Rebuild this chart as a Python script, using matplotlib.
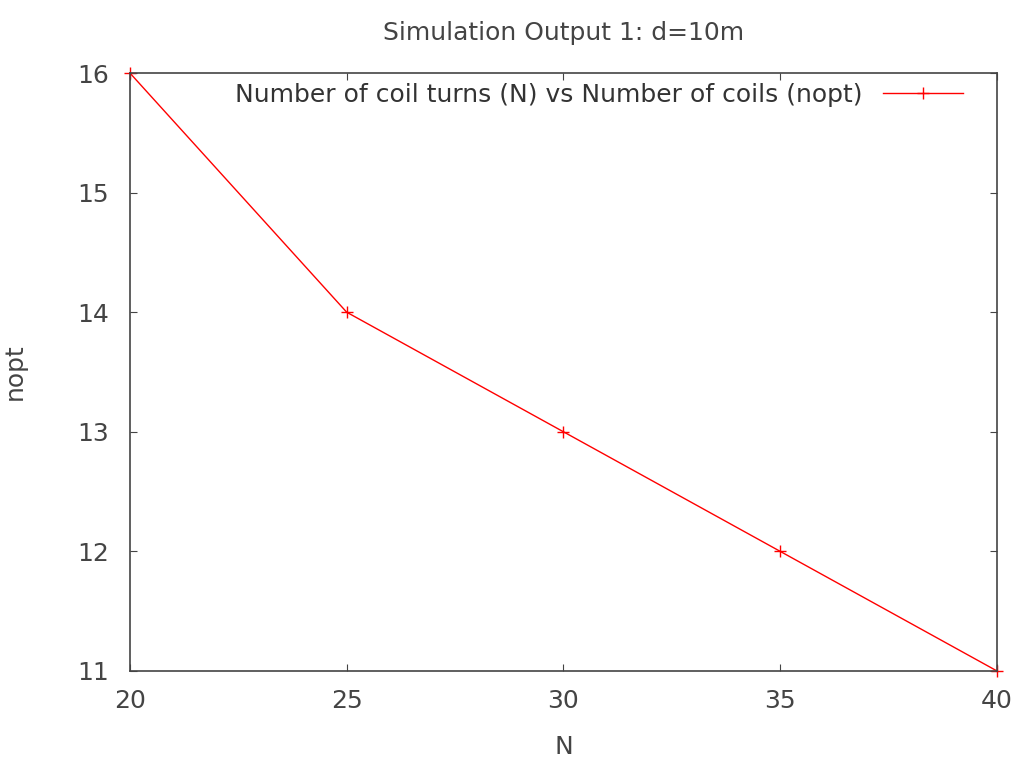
import matplotlib
matplotlib.use('Agg')
import matplotlib.pyplot as plt

# data
n_turns = [20, 25, 30, 35, 40]
n_opt = [16, 14, 13, 12, 11]
x_ticks = [20, 25, 30, 35, 40]
y_ticks = [11, 12, 13, 14, 15, 16]

fig = plt.figure(figsize=(10.23, 7.63), dpi=100)
ax = fig.add_axes([0.127, 0.1206, 0.8476, 0.7837])

ax.plot(n_turns, n_opt, color='#ff0000', linewidth=1.0, marker='+',
        markersize=9, markeredgewidth=1.0, clip_on=False,
        label='Number of coil turns (N) vs Number of coils (nopt)')

ax.set_xlim(20, 40)
ax.set_ylim(11, 16)
ax.set_xticks(x_ticks)
ax.set_yticks(y_ticks)
ax.tick_params(direction='in', length=5, width=0.8, top=True, right=True,
               labelsize=18, colors='#444444')
ax.tick_params(axis='x', pad=13)
ax.tick_params(axis='y', pad=15)
for s in ax.spines.values():
    s.set_linewidth(1.2)
    s.set_color('#444444')

ax.set_xlabel('N', fontsize=18, labelpad=16, color='#444444')
ax.set_ylabel('nopt', fontsize=18, labelpad=36, color='#444444')
ax.set_title('Simulation Output 1: d=10m', fontsize=18, pad=24, color='#444444')

leg = ax.legend(loc='upper right', bbox_to_anchor=(0.972, 1.0), frameon=False,
                fontsize=18, handlelength=3.2, borderaxespad=0, borderpad=0.4,
                handletextpad=0.8, markerfirst=False)
for t in leg.get_texts():
    t.set_color('#333333')

fig.savefig('out.png', dpi=100)
